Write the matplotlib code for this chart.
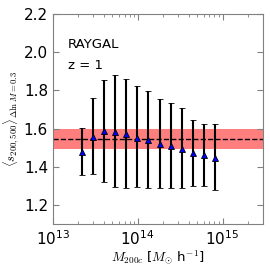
import matplotlib
matplotlib.use("Agg")
import matplotlib.pyplot as plt
import numpy as np

plt.rcParams['mathtext.fontset'] = 'cm'

mass = [2.22e13, 3.0e13, 4.05e13, 5.46e13, 7.36e13, 9.93e13, 1.34e14,
        1.81e14, 2.44e14, 3.29e14, 4.44e14, 5.98e14, 8.07e14]
s_mean = [1.478, 1.558, 1.585, 1.584, 1.570, 1.553, 1.540,
          1.518, 1.509, 1.492, 1.471, 1.460, 1.448]
s_top = [1.605, 1.759, 1.856, 1.879, 1.858, 1.823, 1.795,
         1.757, 1.733, 1.707, 1.643, 1.623, 1.623]
s_bot = [1.358, 1.361, 1.318, 1.295, 1.287, 1.292, 1.289,
         1.288, 1.289, 1.288, 1.301, 1.298, 1.280]
band_low, band_mid, band_high = 1.492, 1.547, 1.596

fig = plt.figure(figsize=(2.7, 2.7), dpi=100)
ax = fig.add_axes([0.196, 0.170, 0.778, 0.778])

ax.axhspan(band_low, band_high, color='red', alpha=0.5, lw=0, zorder=1)
ax.axhline(band_mid, color='black', ls='--', lw=1.0, zorder=2)

m = np.array(mass); y = np.array(s_mean)
yerr = [y - np.array(s_bot), np.array(s_top) - y]
ax.errorbar(m, y, yerr=yerr, fmt='^', color='black', mfc='blue', mec='black',
            ms=5, elinewidth=1.5, capsize=2, capthick=1.2, mew=0.6, zorder=3)

ax.set_xscale('log')
ax.set_xlim(1e13, 3e15)
ax.set_ylim(1.1, 2.2)
ax.set_yticks([1.2, 1.4, 1.6, 1.8, 2.0, 2.2])

for s in ax.spines.values():
    s.set_color('#808080')
ax.tick_params(which='both', direction='in', top=True, right=True, colors='#808080',
               labelcolor='black', labelsize=11)
ax.tick_params(which='major', length=4)
ax.tick_params(which='minor', length=2)

ax.text(0.07, 0.84, 'RAYGAL', transform=ax.transAxes, fontsize=9.5)
ax.text(0.07, 0.74, 'z = 1', transform=ax.transAxes, fontsize=9.5)

ax.set_xlabel(r'$M_{200c}$ [$M_{\odot}$ h$^{-1}$]', fontsize=9.5, labelpad=1)
ax.set_ylabel(r'$\langle s_{200,500}\rangle_{\Delta \ln M=0.3}$', fontsize=9, labelpad=1)

fig.savefig('out.png', dpi=100)
